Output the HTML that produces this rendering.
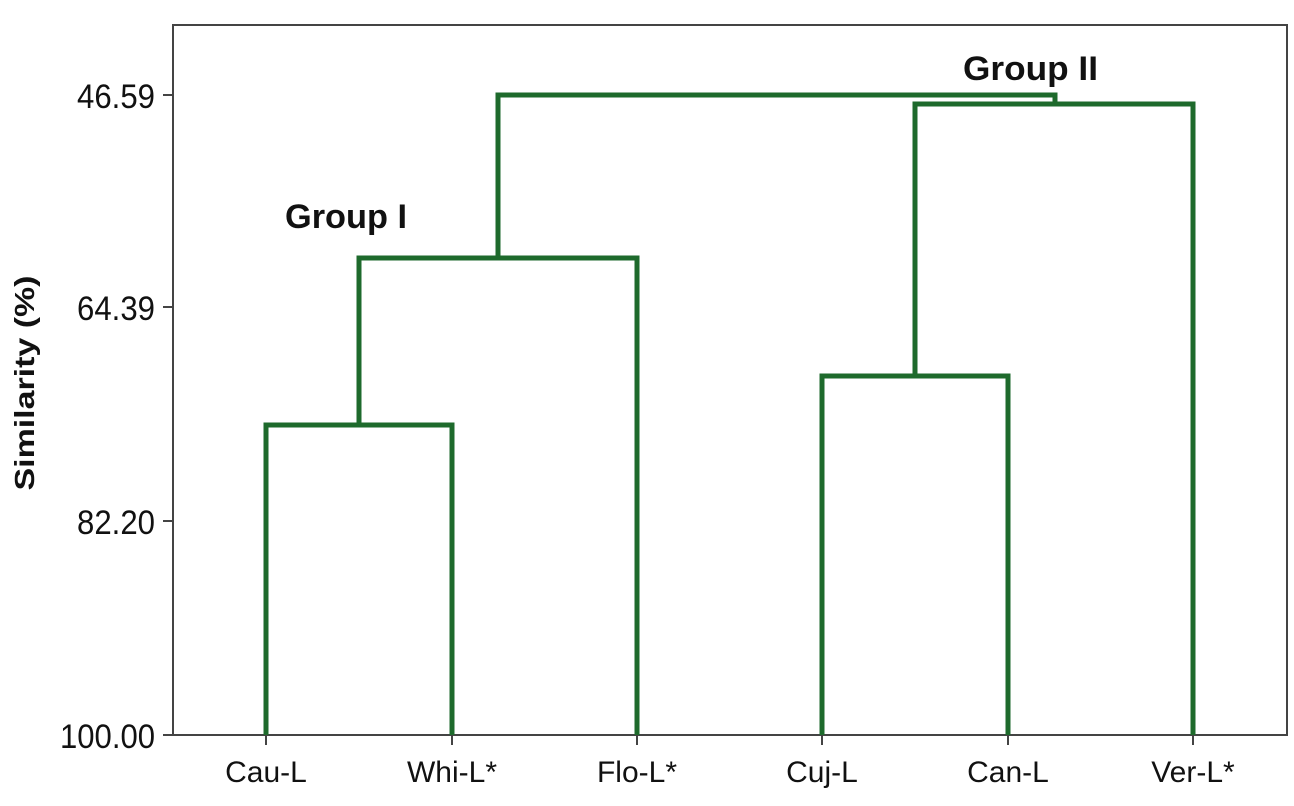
<!DOCTYPE html>
<html><head><meta charset="utf-8"><style>html,body{margin:0;padding:0;background:#fff}svg{display:block}</style></head>
<body>
<svg width="1294" height="806" viewBox="0 0 1294 806" xmlns="http://www.w3.org/2000/svg" font-family="Liberation Sans, sans-serif">
<rect x="173" y="25" width="1114" height="710" fill="#fff" stroke="#444" stroke-width="2"/>
<g stroke="#444" stroke-width="2">
<line x1="163" y1="95" x2="173" y2="95"/>
<line x1="163" y1="307" x2="173" y2="307"/>
<line x1="163" y1="521" x2="173" y2="521"/>
<line x1="163" y1="735" x2="173" y2="735"/>
<line x1="266" y1="735" x2="266" y2="745"/>
<line x1="452" y1="735" x2="452" y2="745"/>
<line x1="637" y1="735" x2="637" y2="745"/>
<line x1="822" y1="735" x2="822" y2="745"/>
<line x1="1008" y1="735" x2="1008" y2="745"/>
<line x1="1193" y1="735" x2="1193" y2="745"/>
</g>
<g fill="none" stroke="#1e6a2c" stroke-width="5" stroke-linejoin="miter">
<polyline points="266,735 266,425 452,425 452,735"/>
<polyline points="359,425 359,258 637,258 637,735"/>
<polyline points="498,258 498,95 1055,95 1055,104"/>
<polyline points="822,735 822,376 1008,376 1008,735"/>
<polyline points="915,376 915,104 1193,104 1193,735"/>
</g>
<g font-size="34" fill="#111" text-anchor="end">
<text x="155" y="108" textLength="78" lengthAdjust="spacingAndGlyphs">46.59</text>
<text x="155" y="320" textLength="78" lengthAdjust="spacingAndGlyphs">64.39</text>
<text x="155" y="534" textLength="78" lengthAdjust="spacingAndGlyphs">82.20</text>
<text x="155" y="748" textLength="95" lengthAdjust="spacingAndGlyphs">100.00</text>
</g>
<g font-size="30" fill="#111" text-anchor="middle">
<text x="266" y="782">Cau-L</text>
<text x="452" y="782">Whi-L*</text>
<text x="637" y="782">Flo-L*</text>
<text x="822" y="782">Cuj-L</text>
<text x="1008" y="782">Can-L</text>
<text x="1193" y="782">Ver-L*</text>
</g>
<text transform="translate(34,383) rotate(-90)" font-size="28" font-weight="bold" text-anchor="middle" fill="#111" textLength="215" lengthAdjust="spacingAndGlyphs">Similarity (%)</text>
<text x="285" y="228" font-size="34" font-weight="bold" fill="#111" textLength="122" lengthAdjust="spacingAndGlyphs">Group I</text>
<text x="963" y="80" font-size="34" font-weight="bold" fill="#111" textLength="135" lengthAdjust="spacingAndGlyphs">Group II</text>
</svg>
</body></html>
